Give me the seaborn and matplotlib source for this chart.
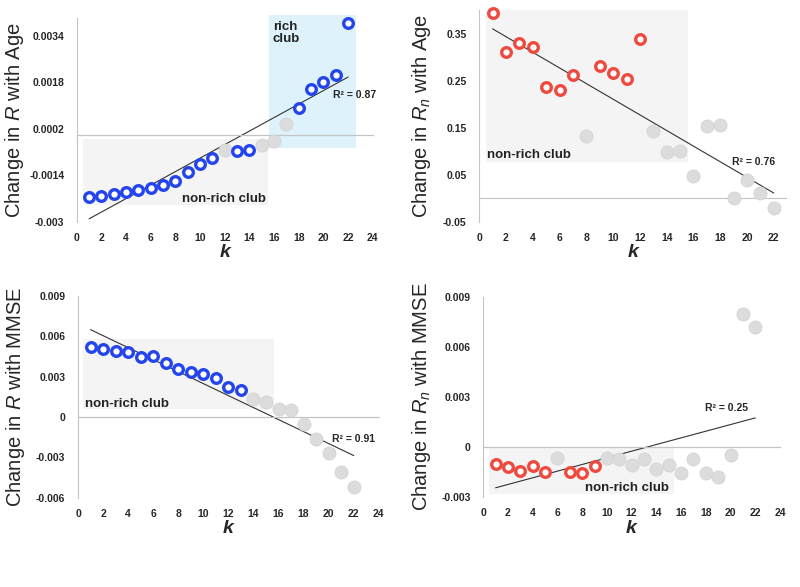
import numpy as np
import pandas as pd
import matplotlib
matplotlib.use("Agg")
import matplotlib.pyplot as plt
import seaborn as sns

k = list(range(1, 23))

# top-left: change in R with age
r_age = [-0.00215, -0.00211, -0.00203, -0.00196, -0.00190, -0.00183, -0.00172,
         -0.00161, -0.00127, -0.00101, -0.00081, -0.00053, -0.00057, -0.00053,
         -0.00036, -0.00021, 0.00038, 0.00091, 0.00155, 0.00180, 0.00205, 0.00383]
r_age_sig = [1, 1, 1, 1, 1, 1, 1, 1, 1, 1, 1, 0, 1, 1, 0, 0, 0, 1, 1, 1, 1, 1]

# top-right: change in Rn with age
rn_age = [0.394, 0.311, 0.329, 0.321, 0.237, 0.231, 0.262, 0.132, 0.280, 0.266,
          0.254, 0.339, 0.142, 0.098, 0.100, 0.048, 0.154, 0.156, 0.000, 0.039,
          0.011, -0.021]
rn_age_sig = [1, 1, 1, 1, 1, 1, 1, 0, 1, 1, 1, 1, 0, 0, 0, 0, 0, 0, 0, 0, 0, 0]

# bottom-left: change in R with MMSE
r_mmse = [0.00518, 0.00506, 0.00491, 0.00481, 0.00446, 0.00456, 0.00404, 0.00360,
          0.00337, 0.00322, 0.00288, 0.00226, 0.00203, 0.00134, 0.00114, 0.00060,
          0.00052, -0.00055, -0.00161, -0.00270, -0.00407, -0.00518]
r_mmse_sig = [1] * 13 + [0] * 9

# bottom-right: change in Rn with MMSE
rn_mmse = [-0.00100, -0.00122, -0.00142, -0.00116, -0.00148, -0.00066, -0.00146,
           -0.00152, -0.00116, -0.00066, -0.00072, -0.00106, -0.00072, -0.00130,
           -0.00110, -0.00156, -0.00072, -0.00152, -0.00180, -0.00046, 0.00798,
           0.00720]
rn_mmse_sig = [1, 1, 1, 1, 1, 0, 1, 1, 1, 0, 0, 0, 0, 0, 0, 0, 0, 0, 0, 0, 0, 0]

BLUE = "#2444ee"
RED = "#ee4a3f"
GREY_PT = "#dcdcdc"
AXIS = "#c4c4c4"


def panel(ax, y, sig, color, ylabel, ylim, yticks, xlim, r2, r2_pos,
          nonrich, label_pos, label_x=-0.17, zero_ticks=True, rich=None):
    df = pd.DataFrame({"k": k, "y": y, "sig": sig})
    ax.set_xlim(*xlim)
    ax.set_ylim(*ylim)

    # shaded club regions
    x0, x1, y0, y1 = nonrich
    ax.fill_between([x0, x1], y0, y1, color="#f4f4f4", lw=0, zorder=0)
    if rich is not None:
        rx0, rx1, ry0, ry1 = rich
        ax.fill_between([rx0, rx1], ry0, ry1, color="#ddf2fb", lw=0,
                        zorder=0, clip_on=False)

    sns.regplot(data=df, x="k", y="y", scatter=False, ci=None, ax=ax,
                line_kws={"color": "#333333", "lw": 0.8, "zorder": 2})

    sns.scatterplot(data=df[df.sig == 0], x="k", y="y", ax=ax, s=90,
                    color=GREY_PT, edgecolor="#d2d2d2", linewidth=0.5,
                    zorder=3, clip_on=False)
    sns.scatterplot(data=df[df.sig == 1], x="k", y="y", ax=ax, s=48,
                    color="white", edgecolor=color, linewidth=2.4,
                    zorder=4, clip_on=False)

    ax.axhline(0, color=AXIS, lw=0.8, zorder=1)

    # axis styling
    for side in ["top", "right", "bottom"]:
        ax.spines[side].set_visible(False)
    ax.spines["left"].set_color(AXIS)
    ax.spines["left"].set_linewidth(0.8)
    ax.set_yticks(yticks)
    ax.set_yticklabels([str(t) for t in yticks], fontsize=7.5,
                       fontweight="bold")
    ax.tick_params(axis="y", length=3, color=AXIS, pad=6)

    xt = list(range(0, int(xlim[1]) + 1, 2))
    ax.set_xticks(xt)
    if zero_ticks:
        ax.tick_params(axis="x", length=3, color=AXIS, labelbottom=False)
        ax.spines["bottom"].set_visible(True)
        ax.spines["bottom"].set_position(("data", 0))
        ax.spines["bottom"].set_color(AXIS)
        ax.spines["bottom"].set_linewidth(0.8)
    else:
        ax.tick_params(axis="x", length=0, labelbottom=False)
    sec = ax.secondary_xaxis("bottom")
    sec.set_xticks(xt)
    sec.set_xticklabels([str(t) for t in xt], fontsize=7.5,
                        fontweight="bold")
    sec.tick_params(length=0, pad=8)
    sec.spines["bottom"].set_visible(False)
    sec.set_xlabel("k", fontsize=14, fontweight="bold", style="italic",
                   labelpad=1)

    ax.set_xlabel("")
    ax.set_ylabel(ylabel, fontsize=14.5)
    ax.yaxis.set_label_coords(label_x, 0.5)

    ax.text(r2_pos[0], r2_pos[1], "R² = " + r2, fontsize=7.5,
            fontweight="bold", ha="left", va="center")
    ax.text(label_pos[0], label_pos[1], "non-rich club", fontsize=9.5,
            fontweight="bold", color="#222222", ha="left", va="center")


sns.set_theme(style="white")
plt.rcParams["font.family"] = ["Liberation Sans", "DejaVu Sans"]
plt.rcParams["mathtext.fontset"] = "custom"
plt.rcParams["mathtext.rm"] = "Liberation Sans"
plt.rcParams["mathtext.it"] = "Liberation Sans:italic"

fig = plt.figure(figsize=(8, 5.87), dpi=100)
ax1 = fig.add_axes([0.096, 0.622, 0.370, 0.347])
ax2 = fig.add_axes([0.599, 0.622, 0.385, 0.361])
ax3 = fig.add_axes([0.0975, 0.152, 0.376, 0.344])
ax4 = fig.add_axes([0.604, 0.153, 0.371, 0.341])

panel(ax1, r_age, r_age_sig, BLUE, "Change in $R$ with Age",
      (-0.003, 0.004), [-0.003, -0.0014, 0.0002, 0.0018, 0.0034],
      (0, 24), "0.87", (20.8, 0.00135),
      (0.5, 15.5, -0.00243, -0.00014), (8.5, -0.0022),
      rich=(15.6, 22.6, -0.00047, 0.0041))
ax1.text(15.9, 0.0039, "rich\nclub", fontsize=9.5, fontweight="bold",
         color="#222222", ha="left", va="top", linespacing=0.95)

panel(ax2, rn_age, rn_age_sig, RED, "Change in $R_n$ with Age",
      (-0.05, 0.40), [-0.05, 0.05, 0.15, 0.25, 0.35],
      (0, 23), "0.76", (18.9, 0.077),
      (0.5, 15.6, 0.077, 0.41), (0.6, 0.093), label_x=-0.15,
      zero_ticks=False)

panel(ax3, r_mmse, r_mmse_sig, BLUE, "Change in $R$ with MMSE",
      (-0.006, 0.009), [-0.006, -0.003, 0, 0.003, 0.006, 0.009],
      (0, 24), "0.91", (20.3, -0.0016),
      (0.4, 15.6, 0.00057, 0.00578), (0.55, 0.0010))

panel(ax4, rn_mmse, rn_mmse_sig, RED, "Change in $R_n$ with MMSE",
      (-0.003, 0.009), [-0.003, 0, 0.003, 0.006, 0.009],
      (0, 24), "0.25", (17.9, 0.00234),
      (0.45, 15.4, -0.0028, -0.00006), (8.2, -0.00245))

fig.savefig("out.png", dpi=100)
